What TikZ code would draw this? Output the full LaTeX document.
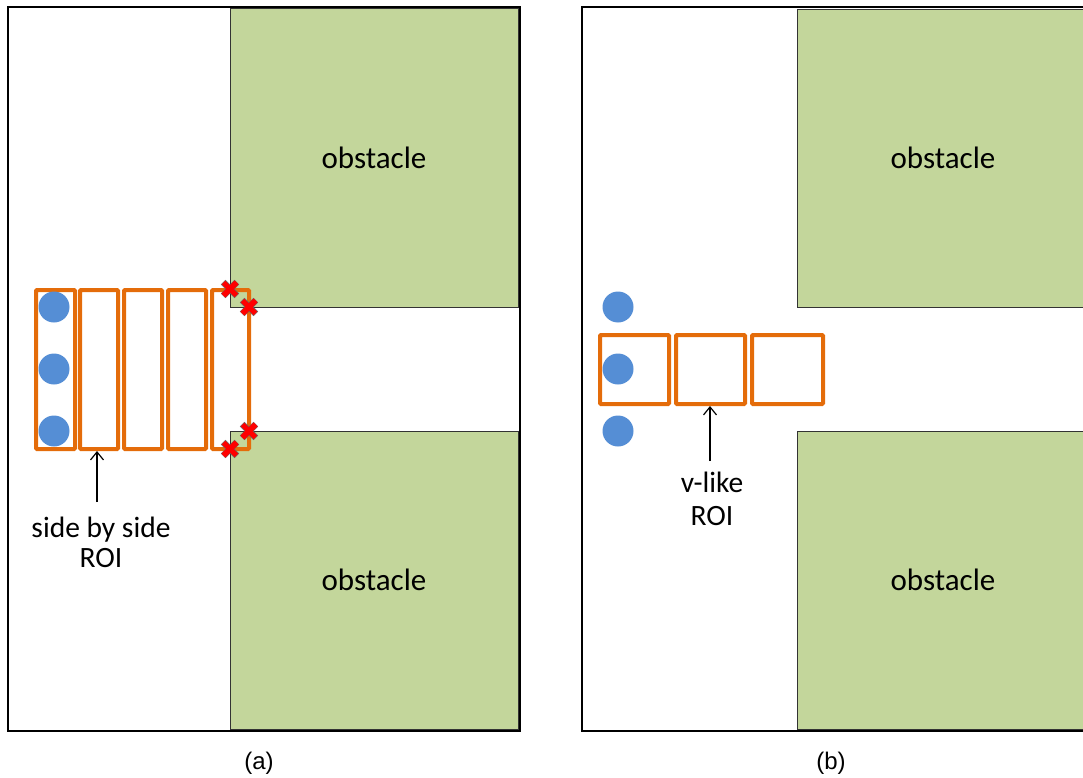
\documentclass[tikz,border=0pt]{standalone}
\usepackage{fontspec}
\usetikzlibrary{arrows.meta}
\setmainfont{Carlito}
\newfontfamily\capfont{Liberation Sans}
\definecolor{obsgreen}{HTML}{C3D69B}
\definecolor{roiorange}{HTML}{E46C0A}
\definecolor{agentblue}{HTML}{558ED5}
\tikzset{
  panel/.style={draw=black, line width=1.3pt},
  obst/.style={fill=obsgreen, draw=black!80, line width=1pt},
  roi/.style={draw=roiorange, line width=4pt, rounded corners=1pt},
  agent/.style={circle, fill=agentblue, minimum size=31pt, inner sep=0pt},
  lbl/.style={font=\fontsize{31}{34}\selectfont, align=center},
  caption/.style={font=\capfont\fontsize{24}{26}\selectfont},
  ptr/.style={-{Straight Barb[length=8pt,width=13pt,line width=1.2pt]}, line width=1.2pt}
}
\begin{document}
\begin{tikzpicture}[x=1pt, y=-1pt]
\useasboundingbox (0,0) rectangle (1083,778);
\clip (0,0) rectangle (1083,778);

% ---------- panel (a) ----------
\draw[panel] (8,7) rectangle (520,731);
\node[obst, minimum width=288pt, minimum height=298pt, inner sep=0pt] (obsA1) at (374,158) {};
\node[obst, minimum width=288pt, minimum height=298pt, inner sep=0pt] (obsA2) at (374,580) {};
\node[lbl] at (obsA1) {obstacle};
\node[lbl] at (obsA2) {obstacle};

% side-by-side ROI strips
\draw[roi] (36,290) rectangle (75,449);
\draw[roi] (80,290) rectangle (118,449);
\draw[roi] (124,290) rectangle (162,449);
\draw[roi] (168,290) rectangle (206,449);
\draw[roi] (212,290) rectangle (249,449);

% agents
\node[agent] (a1) at (54,307) {};
\node[agent] (a2) at (54,369) {};
\node[agent] (a3) at (54,431) {};

% collision marks
\foreach \px/\py in {230/289, 249/307, 249/431, 230/449} {
  \begin{scope}[shift={(\px,\py)}]
    \foreach \r in {45,-45}
      \filldraw[fill=red, draw=black!60, line width=0.4pt, rotate=\r] (-9.5,-3) rectangle (9.5,3);
    \fill[red, rotate=45] (-9.2,-2.7) rectangle (9.2,2.7);
  \end{scope}
}

\node[lbl, font=\fontsize{29.5}{30}\selectfont] (tA) at (101,542) {side by side\\ROI};
\coordinate (roiA) at (97,451);
\draw[ptr] (97,502) -- (roiA);
\node[caption] (capA) at (259,763) {(a)};

% ---------- panel (b) ----------
\draw[panel] (582,7) rectangle (1100,731);
\node[obst, minimum width=300pt, minimum height=298pt, inner sep=0pt, anchor=north west] (obsB1) at (797,9) {};
\node[obst, minimum width=300pt, minimum height=298pt, inner sep=0pt, anchor=north west] (obsB2) at (797,431) {};
\node[lbl] at (943,158) {obstacle};
\node[lbl] at (943,580) {obstacle};

\draw[roi] (600,335) rectangle (669,404);
\draw[roi] (676,335) rectangle (745,404);
\draw[roi] (752,335) rectangle (823,404);

\node[agent] (b1) at (618,307) {};
\node[agent] (b2) at (618,369) {};
\node[agent] (b3) at (618,431) {};

\node[lbl, font=\fontsize{29.5}{33}\selectfont] (tB) at (712,499) {v-like\\ROI};
\coordinate (roiB) at (710,406);
\draw[ptr] (710,461) -- (roiB);
\node[caption] (capB) at (831,763) {(b)};
\end{tikzpicture}
\end{document}
